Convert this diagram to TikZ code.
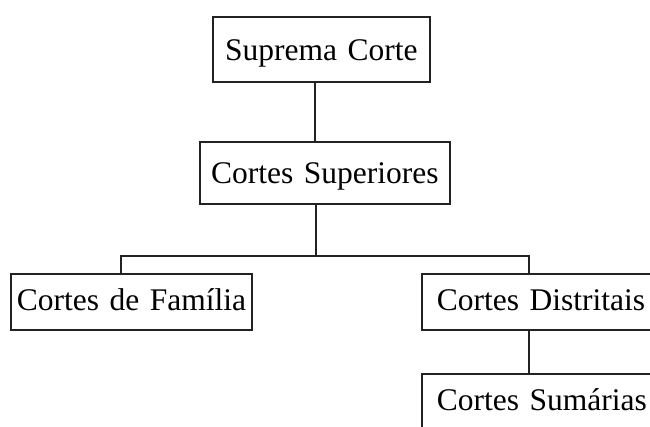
\documentclass[tikz,border=0pt]{standalone}
\usepackage{fontspec}
\setmainfont{Liberation Serif}
\definecolor{ink}{HTML}{222222}
\newcommand{\boxfont}{\fontsize{31.5}{36}\selectfont}
\begin{document}
\begin{tikzpicture}[x=1pt,y=-1pt,
  box/.style={draw=ink,line width=1.8pt,anchor=north west,inner xsep=0pt,inner ysep=0pt,
    font=\boxfont,text=black,align=center},
  link/.style={draw=ink,line width=1.8pt}]
\useasboundingbox (0,0) rectangle (650,426);
\clip (0,0) rectangle (650,426);
\node[box,text width=217pt,text height=44pt,text depth=21pt] (b1) at (212,16) {Suprema Corte};
\node[box,text width=250pt,text height=42pt,text depth=20pt] (b2) at (199,141) {Cortes Superiores};
\node[box,text width=241pt,text height=37pt,text depth=19pt] (b3) at (10,273) {Cortes de Família};
\node[box,text width=240pt,text height=37pt,text depth=19pt,align=left] (b4) at (421,273) {\hspace*{15pt}Cortes Distritais};
\node[box,text width=240pt,text height=37pt,text depth=19pt,align=left] (b5) at (421,373) {\hspace*{15pt}Cortes Sumárias};
\coordinate (j) at (316,256);
\coordinate (c1) at (315,0);
\coordinate (cl) at (121,0);
\coordinate (cr) at (529,0);
\draw[link] (b1.south -| c1) -- (b2.north -| c1);
\draw[link] (b2.south -| j) -- (j);
\draw[link] (b3.north -| cl) |- (j) -| (b4.north -| cr);
\draw[link] (b4.south -| cr) -- (b5.north -| cr);
\end{tikzpicture}
\end{document}
